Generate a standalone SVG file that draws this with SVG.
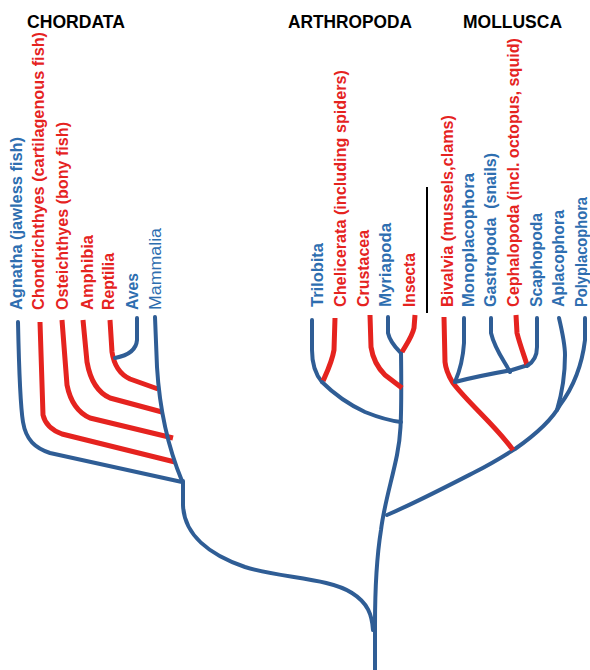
<svg xmlns="http://www.w3.org/2000/svg" width="590" height="670" viewBox="0 0 590 670">
<style>
.t{font-family:"Liberation Sans",Arial,sans-serif;font-weight:bold;font-size:19px;fill:#000}
.l{font-family:"Liberation Sans",Arial,sans-serif;font-weight:bold;font-size:16px}
.b{fill:#2E6EB0}
.r{fill:#E5231F}
.m{font-weight:normal}
.cb{fill:none;stroke:#2F5D95;stroke-width:4;stroke-linecap:round;stroke-linejoin:round}
.cr{fill:none;stroke:#E5231F;stroke-width:5;stroke-linecap:butt;stroke-linejoin:round}
</style>
<rect width="590" height="670" fill="#fff"/>
<g id="titles">
<text class="t" x="27" y="28" textLength="98" lengthAdjust="spacingAndGlyphs">CHORDATA</text>
<text class="t" x="288" y="28" textLength="124" lengthAdjust="spacingAndGlyphs">ARTHROPODA</text>
<text class="t" x="463" y="28" textLength="99" lengthAdjust="spacingAndGlyphs">MOLLUSCA</text>
</g>
<g id="connectors">
<path class="cb" d="M18,322 C19,370 21,410 23,422 C26,440 35,448 50,453 L182,482"/>
<path class="cr" d="M40,322 L43,415 Q46,428 62,434 L175,462"/>
<path class="cr" d="M62,320 L67,385 Q72,410 90,418 L173,438"/>
<path class="cr" d="M83,320 L87,362 Q92,390 110,398 L162,412"/>
<path class="cr" d="M110,320 L112,352 Q115,372 130,379 L158,389"/>
<path class="cb" d="M137,318 L137,340 Q136,354 115,358"/>
<path class="cb" d="M155,317 L157,367 C159,400 165,440 182,481"/>
<path class="cb" d="M183,481 L183,505 C184,535 210,555 245,567 C280,578 330,578 352,593 C368,603 372,615 373,630"/>
<path class="cb" d="M375,670 L375,625 C375,585 377,555 381,530 C384,505 392,480 397,455 C400,440 402,430 401,352"/>
<path class="cb" d="M387,515 C415,503 440,490 475,472 C495,462 510,452 515,449 C535,435 552,420 560,405 C575,385 582,365 585,340 L585,318"/>
<path class="cb" d="M559,318 C563,335 565,345 565,355 C565,375 563,390 557,410"/>
<path class="cr" d="M444,317 L445,362 C446,372 450,378 453,383 C470,405 495,425 513,450"/>
<path class="cb" d="M464,318 L464,343 C463,360 458,375 455,382"/>
<path class="cb" d="M455,382 C470,378 495,373 512,370 L528,365"/>
<path class="cb" d="M491,318 L491,333 C495,350 505,362 510,372"/>
<path class="cr" d="M516,315 L517,333 C520,345 525,358 527,365"/>
<path class="cb" d="M537,318 L537,347 C537,358 532,363 527,366"/>
<path class="cb" d="M312,320 L312,350 C312,365 316,375 322,382"/>
<path class="cr" d="M335,318 L334,350 C332,362 327,372 323,381"/>
<path class="cb" d="M322,382 C335,395 350,405 365,412 C380,418 392,421 401,422"/>
<path class="cr" d="M370,315 L371,347 C373,360 378,368 385,375 L402,388"/>
<path class="cb" d="M388,317 L388,333 C390,342 396,348 400,352"/>
<path class="cr" d="M415,315 L414,328 C412,337 406,345 402,352"/>
<line x1="427" y1="187" x2="427" y2="313" stroke="#000" stroke-width="2"/>
</g>
<g id="agnatha"><text class="l b" transform="translate(21.5,310) rotate(-90)" textLength="173" lengthAdjust="spacingAndGlyphs">Agnatha (jawless fish)</text></g>
<g id="chondrichthyes"><text class="l r" transform="translate(43.5,310) rotate(-90)" textLength="278" lengthAdjust="spacingAndGlyphs">Chondrichthyes (cartilagenous fish)</text></g>
<g id="osteichthyes"><text class="l r" transform="translate(67.5,310) rotate(-90)" textLength="188" lengthAdjust="spacingAndGlyphs">Osteichthyes (bony fish)</text></g>
<g id="amphibia"><text class="l r" transform="translate(92.5,310) rotate(-90)" textLength="75" lengthAdjust="spacingAndGlyphs">Amphibia</text></g>
<g id="reptilia"><text class="l r" transform="translate(113.5,310) rotate(-90)" textLength="57" lengthAdjust="spacingAndGlyphs">Reptilia</text></g>
<g id="aves"><text class="l b" transform="translate(137.5,310) rotate(-90)" textLength="37" lengthAdjust="spacingAndGlyphs">Aves</text></g>
<g id="mammalia"><text class="l b m" transform="translate(160.5,310) rotate(-90)" textLength="82" lengthAdjust="spacingAndGlyphs">Mammalia</text></g>
<g id="trilobita"><text class="l b" transform="translate(322.5,307) rotate(-90)" textLength="64" lengthAdjust="spacingAndGlyphs">Trilobita</text></g>
<g id="chelicerata"><text class="l r" transform="translate(345.5,307) rotate(-90)" textLength="237" lengthAdjust="spacingAndGlyphs">Chelicerata (including spiders)</text></g>
<g id="crustacea"><text class="l r" transform="translate(368.5,307) rotate(-90)" textLength="77" lengthAdjust="spacingAndGlyphs">Crustacea</text></g>
<g id="myriapoda"><text class="l b" transform="translate(390.5,307) rotate(-90)" textLength="84" lengthAdjust="spacingAndGlyphs">Myriapoda</text></g>
<g id="insecta"><text class="l r" transform="translate(414.5,307) rotate(-90)" textLength="54" lengthAdjust="spacingAndGlyphs">Insecta</text></g>
<g id="bivalvia"><text class="l r" transform="translate(452.5,307) rotate(-90)" textLength="192" lengthAdjust="spacingAndGlyphs">Bivalvia (mussels,clams)</text></g>
<g id="monoplacophora"><text class="l b" transform="translate(473.5,307) rotate(-90)" textLength="134" lengthAdjust="spacingAndGlyphs">Monoplacophora</text></g>
<g id="gastropoda"><text class="l b" transform="translate(495.5,307) rotate(-90)" textLength="154" lengthAdjust="spacingAndGlyphs" xml:space="preserve">Gastropoda  (snails)</text></g>
<g id="cephalopoda"><text class="l r" transform="translate(518.5,307) rotate(-90)" textLength="269" lengthAdjust="spacingAndGlyphs">Cephalopoda (incl. octopus, squid)</text></g>
<g id="scaphopoda"><text class="l b" transform="translate(541.5,307) rotate(-90)" textLength="94" lengthAdjust="spacingAndGlyphs">Scaphopoda</text></g>
<g id="aplacophora"><text class="l b" transform="translate(563.5,307) rotate(-90)" textLength="97" lengthAdjust="spacingAndGlyphs">Aplacophora</text></g>
<g id="polyplacophora"><text class="l b" transform="translate(586.5,307) rotate(-90)" textLength="110" lengthAdjust="spacingAndGlyphs">Polyplacophora</text></g>
</svg>
